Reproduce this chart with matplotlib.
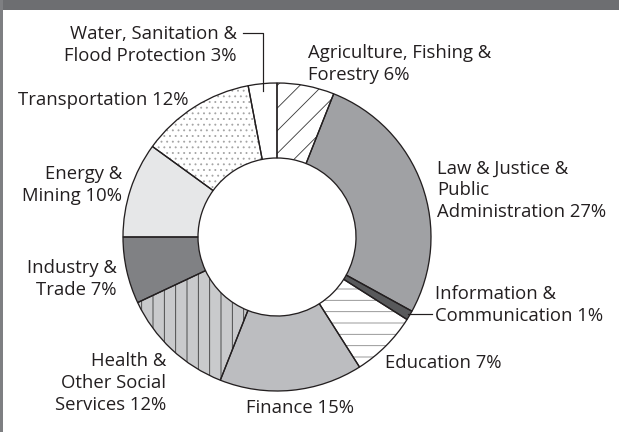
import matplotlib
matplotlib.use("Agg")
import matplotlib.pyplot as plt
from matplotlib.patches import Rectangle
import numpy as np

W, H = 619, 432
DPI = 68
plt.rcParams['font.family'] = ['Open Sans', 'DejaVu Sans']
plt.rcParams['hatch.linewidth'] = 0.9


def px(v):
    # pixels -> points at this dpi
    return v * 72.0 / DPI


# data
sectors = ["Agriculture, Fishing &\nForestry", "Law & Justice &\nPublic\nAdministration",
           "Information &\nCommunication", "Education", "Finance",
           "Health &\nOther Social\nServices", "Industry &\nTrade", "Energy &\nMining",
           "Transportation", "Water, Sanitation &\nFlood Protection"]
shares = [6, 27, 1, 7, 15, 12, 7, 10, 12, 3]
fills = ["white", "#a0a1a4", "#58595b", "white", "#bcbdc0",
         "#c9cacc", "#808184", "#e6e7e8", "white", "white"]
hatches = ["/", None, None, "-", None, "|", None, None, "..", None]
hatch_cols = ["#3a3a3a", "none", "none", "#8a8a8a", "none",
              "#3a3a3a", "none", "none", "#a5a5a5", "none"]

# text layout (pixel coords, y from top)
label_pos = [(308, 64, "left"), (437, 190, "left"), (435, 305, "left"),
             (385, 363, "left"), (300, 408, "center"), (166, 383, "right"),
             (117, 279, "right"), (122, 185, "right"), (188, 100, "right"),
             (237, 45, "right")]

cx, cy = 277, 237
R_out, R_in = 154, 79

fig = plt.figure(figsize=(W / DPI, H / DPI), dpi=DPI)
ax = fig.add_axes([0, 0, 1, 1])

wedges, _ = ax.pie(shares, startangle=90, counterclock=False, radius=R_out,
                   center=(cx, H - cy), colors=fills,
                   wedgeprops=dict(width=R_out - R_in, linewidth=0))
for w, h, hc in zip(wedges, hatches, hatch_cols):
    w.set_edgecolor(hc)
    if h:
        w.set_hatch(h)

outline, _ = ax.pie(shares, startangle=90, counterclock=False, radius=R_out,
                    center=(cx, H - cy), colors=["none"] * len(shares),
                    wedgeprops=dict(width=R_out - R_in, linewidth=px(1.3),
                                    edgecolor="#231f20", fill=False))

for name, val, (x, y, ha) in zip(sectors, shares, label_pos):
    ax.text(x, H - y, f"{name} {val}%", ha=ha, va="center", fontsize=px(18.5),
            color="#231f20", linespacing=1.26)

# leader lines from wedge mid angles
fr = np.cumsum([0] + shares[:-1]) + np.array(shares) / 2
ang = np.radians(90 - fr / sum(shares) * 360)
# water
i = 9
ex, ey = cx + (R_out - 7) * np.cos(ang[i]), H - cy + (R_out - 7) * np.sin(ang[i])
ax.plot([243, ex, ex], [H - 33, H - 33, ey], color="#231f20", lw=px(1.2))
# information
i = 2
ex, ey = cx + (R_out - 2) * np.cos(ang[i]), H - cy + (R_out - 2) * np.sin(ang[i])
ax.plot([ex, 432], [ey, ey], color="#231f20", lw=px(1.2))

# frame
ax.add_patch(Rectangle((0, H - 10), W, 10, color="#6d6e71", lw=0))
ax.add_patch(Rectangle((0, 0), 3, H, color="#7e7f82", lw=0))

ax.set_xlim(0, W)
ax.set_ylim(0, H)
ax.set_aspect("auto")
ax.axis("off")
fig.savefig("out.png", dpi=DPI, facecolor="white")
